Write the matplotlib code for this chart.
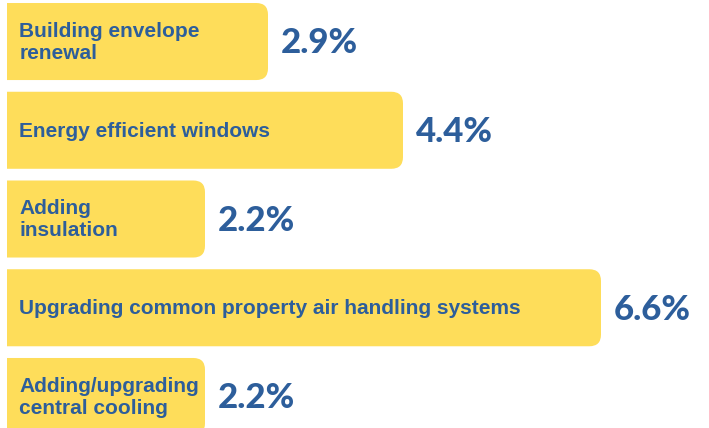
import matplotlib
matplotlib.use("Agg")
import matplotlib.pyplot as plt
from matplotlib.patches import FancyBboxPatch

# data
categories = [
    "Building envelope\nrenewal",
    "Energy efficient windows",
    "Adding\ninsulation",
    "Upgrading common property air handling systems",
    "Adding/upgrading\ncentral cooling",
]
values = [2.9, 4.4, 2.2, 6.6, 2.2]
value_labels = ["2.9%", "4.4%", "2.2%", "6.6%", "2.2%"]

YELLOW = "#FEDD5A"
BLUE = "#2D5E9B"


def main():
    fig = plt.figure(figsize=(7.09, 4.28), dpi=100)
    ax = fig.add_axes([7 / 709, 0, 702 / 709, 1])
    ax.set_xlim(0, 702 / 90)
    ax.set_ylim(4.355, -0.468)
    ax.axis("off")

    bar_h = 0.868
    for i, (cat, v, lab) in enumerate(zip(categories, values, value_labels)):
        # rounded bar, left corners hidden behind the axes clip
        box = FancyBboxPatch((-0.4, i - bar_h / 2), v + 0.4, bar_h,
                             boxstyle="round,pad=0,rounding_size=0.13",
                             mutation_aspect=90 / 88.75,
                             facecolor=YELLOW, edgecolor="none")
        box.set_clip_on(True)
        ax.add_patch(box)
        ax.text(0.135, i + 0.01, cat, ha="left", va="center", color=BLUE,
                fontsize=15, fontweight="bold", family="Liberation Sans",
                linespacing=1.2)
        ax.text(v + 0.145, i + 0.02, lab, ha="left", va="center", color=BLUE,
                fontsize=25, fontweight="black", family="Lato")

    fig.savefig("out.png", dpi=100)
    plt.close(fig)


if __name__ == "__main__":
    main()
